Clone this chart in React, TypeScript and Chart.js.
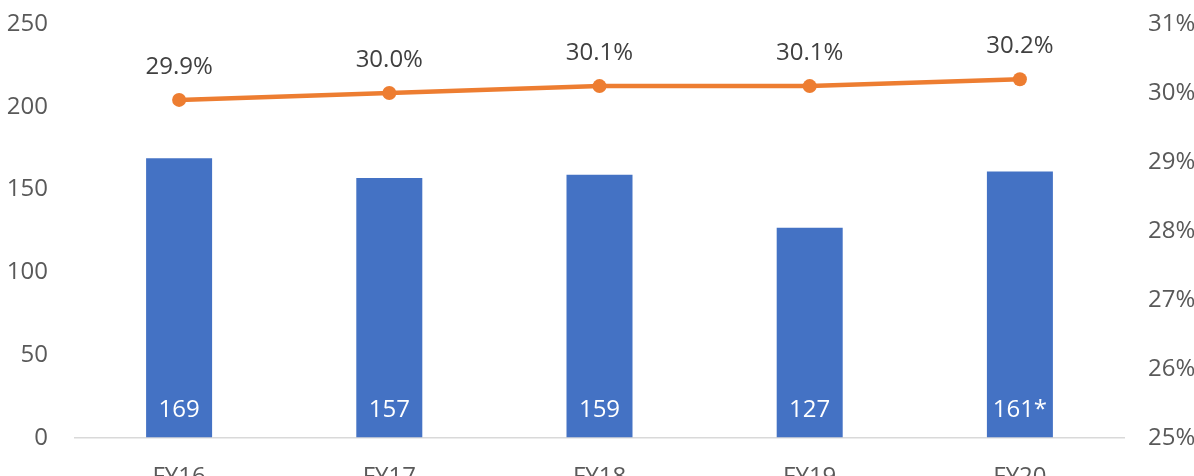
import React, { useEffect, useRef } from "react";
import { Chart, registerables } from "chart.js";

Chart.register(...registerables);

const categories = ["FY16", "FY17", "FY18", "FY19", "FY20"];
const barValues = [169, 157, 159, 127, 161];
const barLabels = ["169", "157", "159", "127", "161*"];
const marginValues = [29.9, 30.0, 30.1, 30.1, 30.2];
const marginLabels = ["29.9%", "30.0%", "30.1%", "30.1%", "30.2%"];

const FONT = "'Open Sans', 'Noto Sans', sans-serif";
const GREY = "#595959";
const BLUE = "#4472C4";
const ORANGE = "#ED7D31";
const FS = 24;

const labelPlugin = {
  id: "valueLabels",
  afterDatasetsDraw(chart: any) {
    const ctx = chart.ctx;
    const yL = chart.scales.y;
    ctx.save();
    ctx.font = `${FS}px ${FONT}`;
    ctx.textAlign = "center";
    ctx.textBaseline = "middle";
    const barMeta = chart.getDatasetMeta(1);
    barMeta.data.forEach((el: any, i: number) => {
      ctx.fillStyle = "#ffffff";
      ctx.fillText(barLabels[i], el.x, yL.getPixelForValue(0) - 28);
    });
    const lineMeta = chart.getDatasetMeta(0);
    lineMeta.data.forEach((el: any, i: number) => {
      ctx.fillStyle = "#404040";
      ctx.fillText(marginLabels[i], el.x, el.y - 33);
    });
    ctx.restore();
  },
};

export default function App() {
  const ref = useRef<HTMLCanvasElement | null>(null);
  useEffect(() => {
    if (!ref.current) return;
    const chart = new Chart(ref.current, {
      type: "bar",
      data: {
        labels: categories,
        datasets: [
          {
            type: "line",
            data: marginValues,
            yAxisID: "y2",
            borderColor: ORANGE,
            backgroundColor: ORANGE,
            borderWidth: 4.5,
            pointRadius: 7,
            pointBackgroundColor: ORANGE,
            pointBorderWidth: 0,
            tension: 0,
            order: 0,
          } as any,
          {
            type: "bar",
            data: barValues,
            yAxisID: "y",
            backgroundColor: BLUE,
            barPercentage: 0.314,
            categoryPercentage: 1,
            order: 1,
          },
        ],
      },
      options: {
        responsive: false,
        animation: false,
        layout: { padding: { top: 24, left: 0, right: 0, bottom: 0 } },
        plugins: { legend: { display: false }, tooltip: { enabled: false } },
        scales: {
          x: {
            grid: { display: false },
            border: { display: false },
            ticks: { color: GREY, font: { family: FONT, size: FS }, padding: 17 },
            afterFit: (s: any) => { s.height = 38; s.paddingLeft = 0; s.paddingRight = 0; },
          },
          y: {
            position: "left",
            min: 0,
            max: 250,
            ticks: { stepSize: 50, color: GREY, font: { family: FONT, size: FS }, padding: 26 },
            grid: {
              color: (c: any) => (c.tick && c.tick.value === 0 ? "#d9d9d9" : "transparent"),
              lineWidth: 1.5,
              drawTicks: false,
            },
            border: { display: false },
            afterFit: (s: any) => { s.width = 74; s.paddingTop = 0; s.paddingBottom = 0; },
          },
          y2: {
            position: "right",
            min: 25,
            max: 31,
            ticks: {
              stepSize: 1,
              color: GREY,
              font: { family: FONT, size: FS },
              padding: 23,
              callback: (v: any) => `${Math.round(Number(v))}%`,
            },
            grid: { display: false, drawTicks: false },
            border: { display: false },
            afterFit: (s: any) => { s.width = 69; s.paddingTop = 0; s.paddingBottom = 0; },
          },
        },
      },
      plugins: [labelPlugin],
    });
    return () => chart.destroy();
  }, []);
  return (
    <div style={{ position: "absolute", left: 0, top: 0, width: 1194, height: 476, background: "#fff" }}>
      <canvas ref={ref} width={1194} height={476} />
    </div>
  );
}
